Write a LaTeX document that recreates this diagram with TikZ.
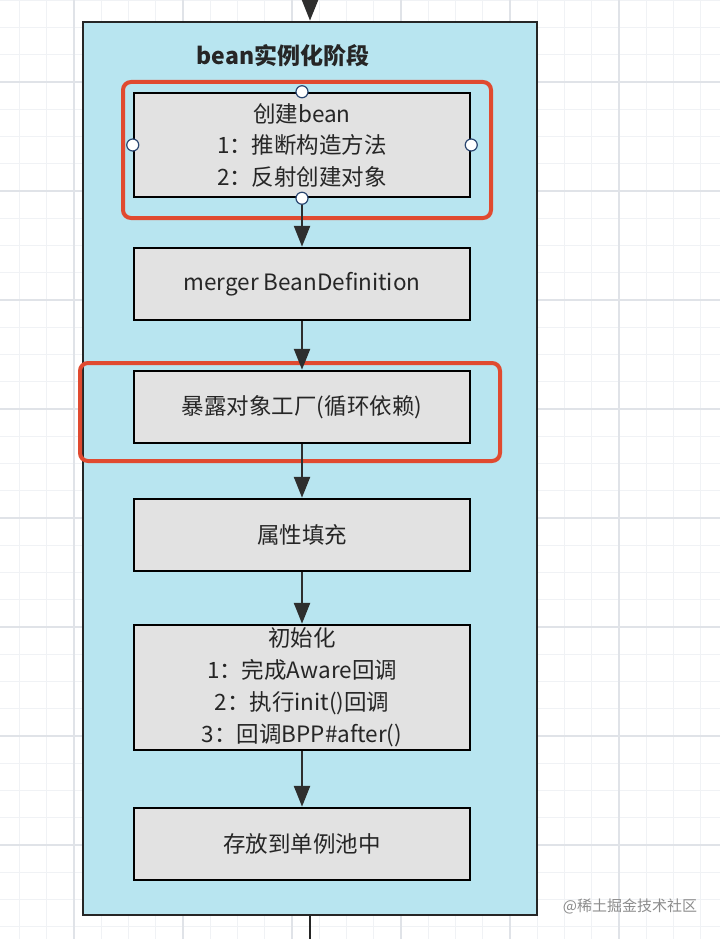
\documentclass[tikz,border=0pt]{standalone}
\usepackage{fontspec}
\setmainfont{Noto Sans CJK SC}
\usetikzlibrary{arrows.meta}
\definecolor{gridminor}{HTML}{F0F2F5}
\definecolor{gridmajor}{HTML}{E0E3E8}
\definecolor{stageblue}{HTML}{B8E5F0}
\definecolor{boxgrey}{HTML}{E2E2E2}
\definecolor{hired}{HTML}{E04A30}
\definecolor{arrowdark}{HTML}{2E2E2E}
\definecolor{handleblue}{HTML}{2A4670}
\tikzset{
  stepbox/.style={draw=black, fill=boxgrey, line width=2.5pt, minimum width=336pt, align=center, inner sep=2pt, font=\fontsize{22.5}{31.5}\selectfont, text=black!85},
  flow/.style={draw=arrowdark, line width=2.5pt, -{Triangle[length=21pt,width=16pt]}},
  highlight/.style={draw=hired, line width=4pt, rounded corners=8pt},
  handle/.style={circle, draw=handleblue, fill=white, line width=1.2pt, minimum size=12pt, inner sep=0pt},
}
\begin{document}
\begin{tikzpicture}[x=1pt,y=-1pt]
\useasboundingbox (0,0) rectangle (720,939);
\fill[white] (0,0) rectangle (720,939);
\begin{scope}
\clip (0,0) rectangle (720,939);
\foreach \i in {-3,...,24} \draw[gridminor, line width=1pt] ({74+27.25*\i},0) -- ({74+27.25*\i},939);
\foreach \i in {-3,...,32} \draw[gridminor, line width=1pt] (0,{82+27.25*\i}) -- (720,{82+27.25*\i});
\foreach \i in {-1,...,6} \draw[gridmajor, line width=1.2pt] ({74+109*\i},0) -- ({74+109*\i},939);
\foreach \i in {-1,...,8} \draw[gridmajor, line width=1.2pt] (0,{82+109*\i}) -- (720,{82+109*\i});
\end{scope}

% stage container
\node[draw=black!85, fill=stageblue, line width=2.5pt, minimum width=454pt, minimum height=893pt, inner sep=0pt] (stage) at (310,468.5) {};
\coordinate (topin) at (310,0);
\coordinate (botout) at (310,939);
\draw[flow] (topin) -- (stage.north);
\draw[draw=black!85, line width=2.5pt] (stage.south) -- (botout);

\node[font=\fontsize{23}{26}\selectfont\bfseries, text=black!85] (title) at (283,56) {bean实例化阶段};

% steps
\node[stepbox, minimum height=104pt] (create) at (302,145) {创建bean\\1：推断构造方法\\2：反射创建对象};
\node[stepbox, minimum height=72pt] (merge) at (302,284) {merger BeanDefinition};
\node[stepbox, minimum height=72pt] (expose) at (302,407) {暴露对象工厂(循环依赖)};
\node[stepbox, minimum height=72pt] (fill) at (302,535) {属性填充};
\node[stepbox, minimum height=125pt, font=\fontsize{22.5}{32}\selectfont] (init) at (302,687.5) {初始化\\1：完成Aware回调\\2：执行init()回调\\3：回调BPP\#after()};
\node[stepbox, minimum height=72pt] (store) at (302,844) {存放到单例池中};

% red highlights
\node[highlight, minimum width=368pt, minimum height=136pt, inner sep=0pt] (hl1) at (307,150) {};
\node[highlight, minimum width=420pt, minimum height=98pt, inner sep=0pt] (hl2) at (290,412) {};

% connectors
\draw[flow] (create) -- (merge);
\draw[flow] (merge) -- (expose);
\draw[flow] (expose) -- (fill);
\draw[flow] (fill) -- (init);
\draw[flow] (init) -- (store);

% selection handles
\node[handle] (hn) at (create.north) {};
\node[handle] (hs) at (create.south) {};
\node[handle] (hw) at (create.west) {};
\node[handle] (he) at (create.east) {};

% watermark
\node[font=\fontsize{15}{17}\selectfont, text=black!45] (wm) at (630,906) {@稀土掘金技术社区};
\end{tikzpicture}
\end{document}
